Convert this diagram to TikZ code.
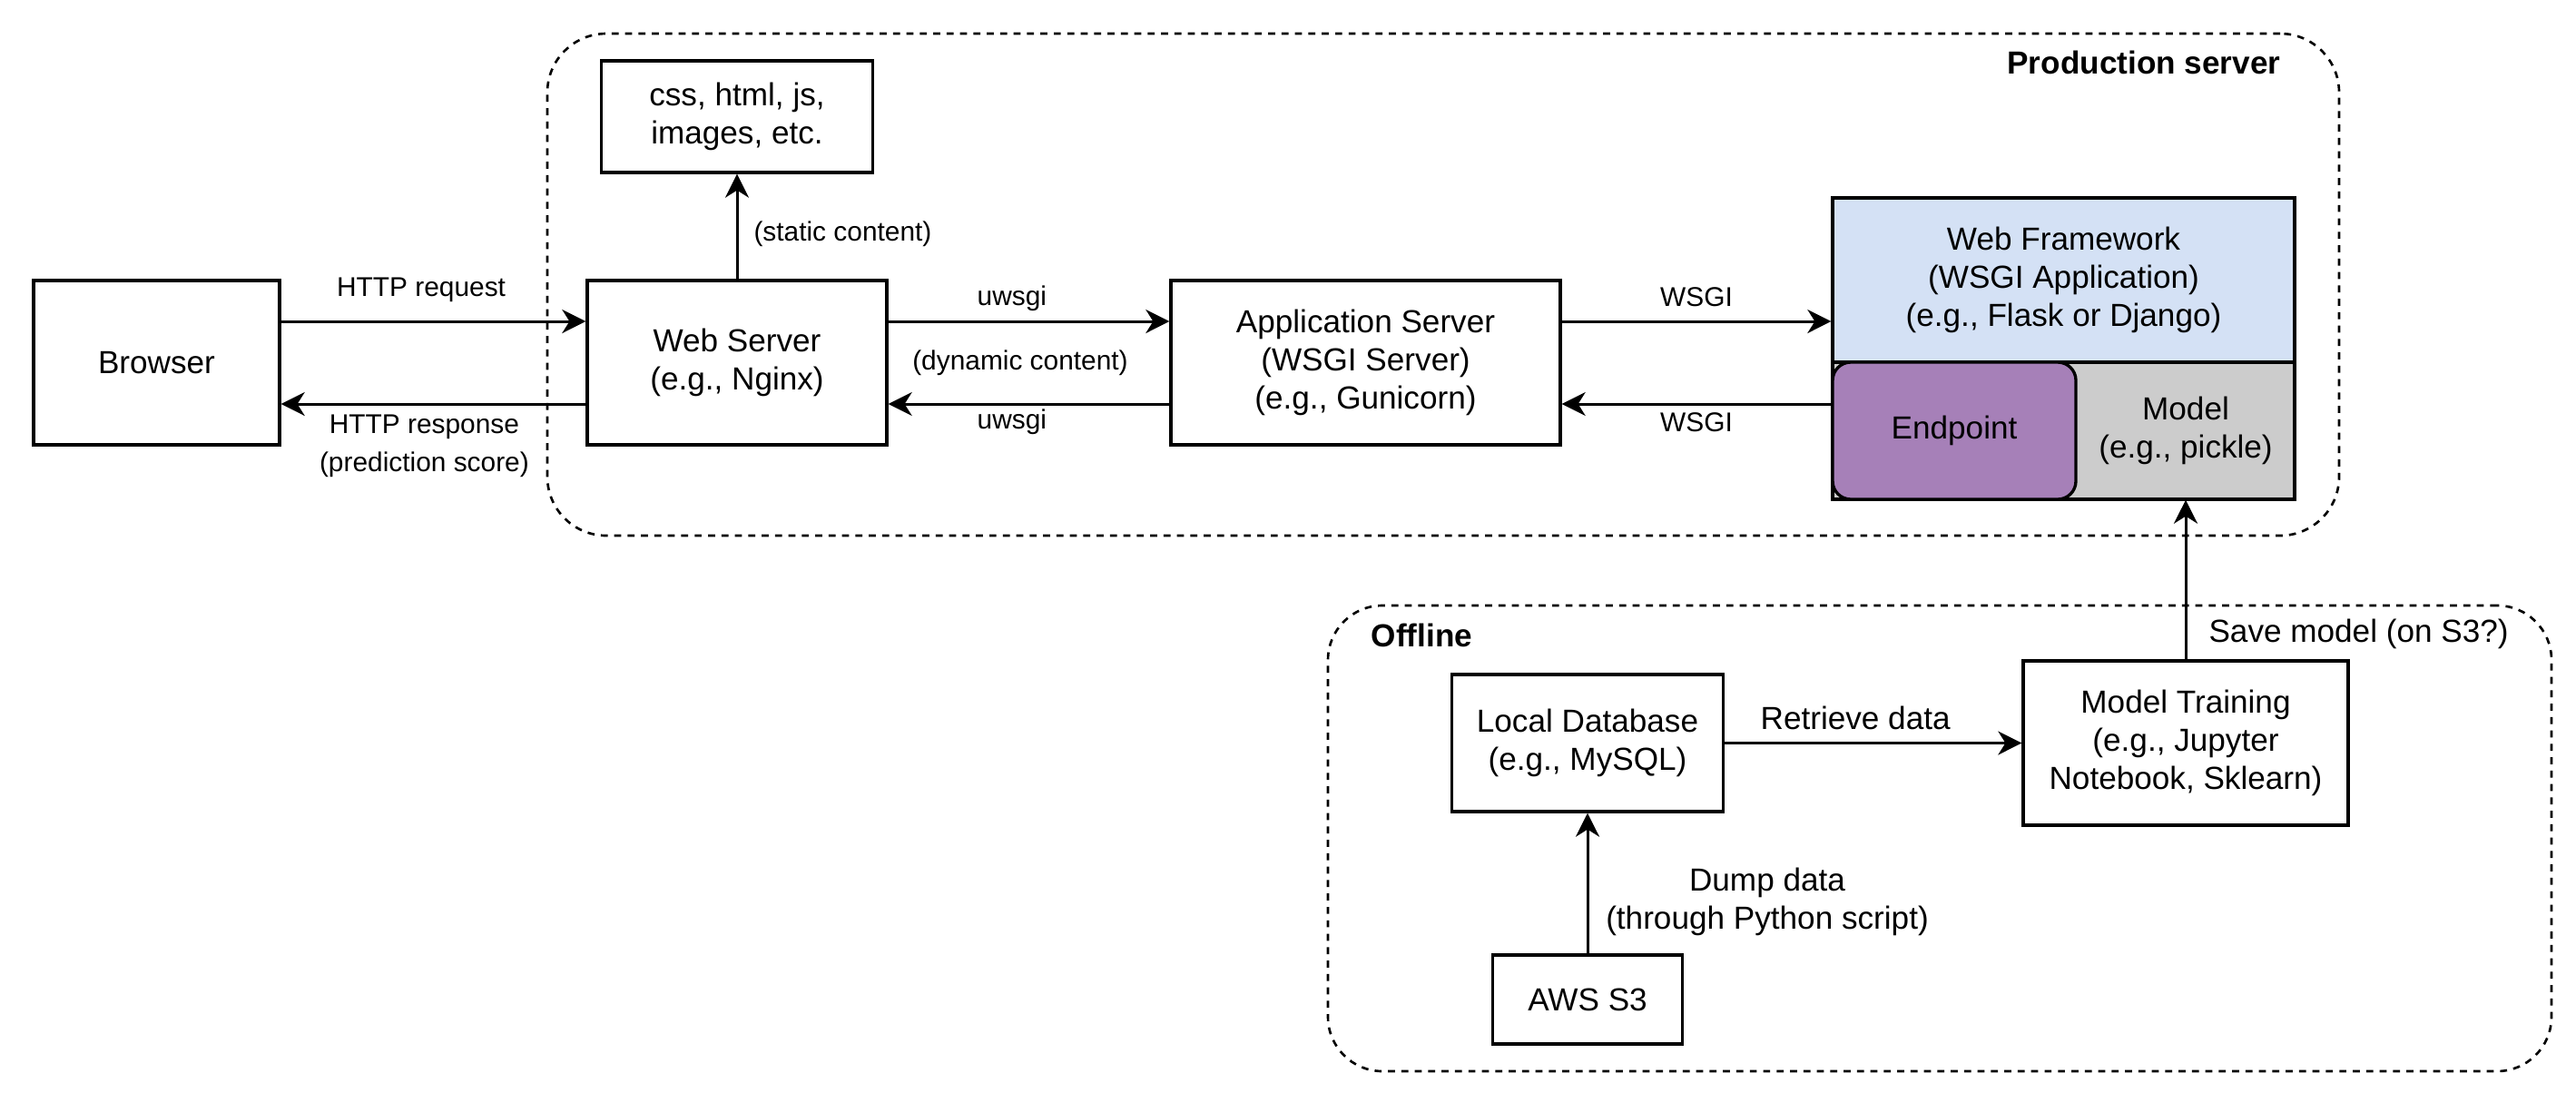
\documentclass[tikz,border=0pt]{standalone}
\usepackage{fontspec}
\setmainfont{Liberation Sans}
\usetikzlibrary{arrows.meta}
\definecolor{frameworkblue}{HTML}{D4E1F5}
\definecolor{endpointpurple}{HTML}{A680B8}
\definecolor{modelgray}{HTML}{CCCCCC}

\begin{document}
\begin{tikzpicture}[
    box/.style={rectangle, draw=black, line width=0.95pt, align=center, inner sep=0pt, font=\fontsize{10}{12}\selectfont},
    group/.style={rectangle, rounded corners=0.65cm, draw=black, line width=0.75pt, dash pattern=on 2.2pt off 2pt, inner sep=0pt},
    flow/.style={-{Stealth[length=7.4pt, width=7.4pt, inset=2.3pt]}, line width=0.85pt},
    small/.style={font=\fontsize{8.5}{12}\selectfont, align=center, inner sep=0pt},
    big/.style={font=\fontsize{10}{12}\selectfont, align=center, inner sep=0pt},
    title/.style={font=\fontsize{10}{12}\selectfont\bfseries, inner sep=0pt}
  ]
  \useasboundingbox (0,0) rectangle (28.38,-12.03);

  \node[group, minimum width=19.74cm, minimum height=5.53cm] (production) at(15.90,-3.135){};
  \node[group, rounded corners=0.6cm, minimum width=13.48cm, minimum height=5.13cm] (offline) at(21.37,-9.235){};
  \node[title, anchor=east] (production-label) at(25.13,-0.69){Production server};
  \node[title, anchor=west] (offline-label) at(15.10,-7.00){Offline};

  \node[box, minimum width=2.71cm, minimum height=1.81cm] (browser) at(1.725,-3.995){Browser};
  \node[box, minimum width=3.30cm, minimum height=1.81cm] (web-server) at(8.12,-3.995){Web Server\\(e.g., Nginx)};
  \node[box, minimum width=2.99cm, minimum height=1.23cm] (static-files) at(8.12,-1.285){css, html, js,\\images, etc.};
  \node[box, minimum width=4.29cm, minimum height=1.81cm] (app-server) at(15.045,-3.995){Application Server\\(WSGI Server)\\(e.g., Gunicorn)};

  \node[box, fill=frameworkblue, minimum width=5.09cm, minimum height=1.81cm] (framework) at(22.735,-3.085){Web Framework\\(WSGI Application)\\(e.g., Flask or Django)};
  \node[box, fill=modelgray, minimum width=5.09cm, minimum height=1.51cm] (web-app) at(22.735,-4.745){};
  \node[box, fill=endpointpurple, rounded corners=0.2cm, minimum width=2.68cm, minimum height=1.51cm] (endpoint) at(21.53,-4.745){Endpoint};
  \node[big, minimum width=2.41cm, minimum height=1.51cm] (model) at(24.08,-4.745){Model\\(e.g., pickle)};

  \node[box, minimum width=2.99cm, minimum height=1.51cm] (local-db) at(17.49,-8.185){Local Database\\(e.g., MySQL)};
  \node[box, minimum width=3.58cm, minimum height=1.81cm] (model-training) at(24.08,-8.185){Model Training\\(e.g., Jupyter\\Notebook, Sklearn)};
  \node[box, minimum width=2.09cm, minimum height=0.98cm] (aws-s3) at(17.49,-11.01){AWS S3};

  \draw[flow] ([yshift=0.455cm]browser.east) -- node[small, pos=0.46, yshift=0.35cm]{HTTP request} ([yshift=0.455cm]web-server.west);
  \draw[flow] ([yshift=-0.455cm]web-server.west) -- node[small, pos=0.53, yshift=-0.46cm]{HTTP response\\(prediction score)} ([yshift=-0.455cm]browser.east);
  \draw[flow] (web-server) -- node[small, pos=0.43, anchor=west, xshift=0.17cm]{(static content)} (static-files);

  \draw[flow] ([yshift=0.455cm]web-server.east) -- node[small, pos=0.44, yshift=0.25cm]{uwsgi} ([yshift=0.455cm]app-server.west);
  \draw[flow] ([yshift=-0.455cm]app-server.west) -- node[small, pos=0.56, yshift=-0.20cm]{uwsgi} ([yshift=-0.455cm]web-server.east);
  \node[small] (dynamic-label) at(11.24,-4.00){(dynamic content)};

  \draw[flow] ([yshift=0.455cm]app-server.east) -- node[small, yshift=0.27cm]{WSGI} ([yshift=0.455cm]app-server.east -| framework.west);
  \draw[flow] ([yshift=-0.455cm]app-server.east -| web-app.west) -- node[small, yshift=-0.20cm]{WSGI} ([yshift=-0.455cm]app-server.east);

  \draw[flow] (local-db) -- node[big, pos=0.44, yshift=0.28cm]{Retrieve data} (model-training);
  \draw[flow] (aws-s3) -- node[big, pos=0.37, xshift=1.98cm]{Dump data\\(through Python script)} (local-db);
  \draw[flow] (model-training) -- node[big, pos=0.16, anchor=west, xshift=0.24cm]{Save model (on S3?)} (model);

\end{tikzpicture}
\end{document}
